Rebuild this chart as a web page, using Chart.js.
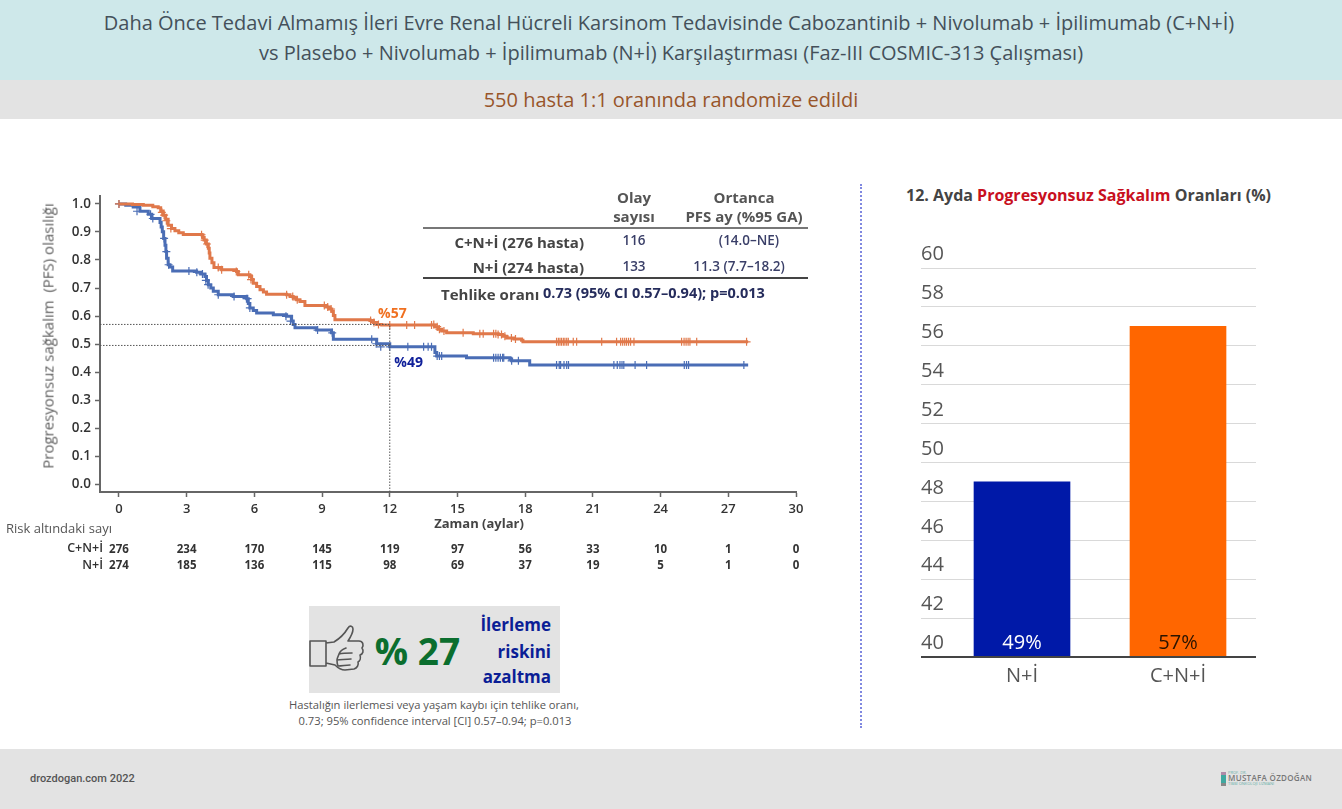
<!DOCTYPE html>
<html lang="tr"><head><meta charset="utf-8">
<script src="https://cdn.jsdelivr.net/npm/chart.js@4"></script>
<style>
html,body{margin:0;padding:0;background:#fff;width:1342px;height:809px;overflow:hidden;font-family:"Open Sans",sans-serif}
.band{position:absolute;left:0;width:1342px}
.t{position:absolute;white-space:nowrap;line-height:1;transform:translateY(-50%)}
.c{transform:translate(-50%,-50%)}
.r{transform:translate(-100%,-50%)}
canvas{position:absolute}
.h{font-size:15px;font-weight:700;color:#555}
.rowl{font-size:15px;font-weight:700;color:#444}
.rowv{font-size:13.5px;font-weight:600;color:#3a3f68}
.az{font-size:17px;font-weight:700;color:#0b1e96}
.cap{font-size:11.2px;color:#555}
</style></head><body>
<div class="band" style="top:0;height:80px;background:#cee8ea"></div>
<div class="band" style="top:80px;height:39px;background:#e3e3e3"></div>
<div class="band" style="top:749px;height:60px;background:#e3e3e3"></div>
<div class="t c" style="left:669px;top:23px;font-size:20px;color:#44505a">Daha Önce Tedavi Almamış İleri Evre Renal Hücreli Karsinom Tedavisinde Cabozantinib + Nivolumab + İpilimumab (C+N+İ)</div>
<div class="t c" style="left:671px;top:53px;font-size:20px;color:#44505a">vs Plasebo + Nivolumab + İpilimumab (N+İ) Karşılaştırması (Faz-III COSMIC-313 Çalışması)</div>
<div class="t c" style="left:671px;top:100px;font-size:20px;color:#98552a">550 hasta 1:1 oranında randomize edildi</div>

<canvas id="km" style="left:0;top:184px"></canvas>
<canvas id="bars" style="left:900px;top:240px"></canvas>

<div class="t" style="left:48px;top:336px;font-size:15px;color:#5f5f5f;transform:translate(-50%,-50%) rotate(-90deg)">Progresyonsuz sağkalım&nbsp; (PFS) olasılığı</div>
<div class="t c" style="left:479px;top:523px;font-size:13px;font-weight:700;color:#444">Zaman (aylar)</div>
<div class="t" style="left:6px;top:528px;font-size:13px;color:#555">Risk altındaki sayı</div>

<div class="t c h" style="left:634px;top:197px">Olay</div>
<div class="t c h" style="left:634px;top:216px">sayısı</div>
<div class="t c h" style="left:744px;top:197px">Ortanca</div>
<div class="t c h" style="left:744px;top:216px">PFS ay (%95 GA)</div>
<div style="position:absolute;left:423px;top:227px;width:385px;height:2px;background:#777"></div>
<div class="t r rowl" style="left:584px;top:242px">C+N+İ (276 hasta)</div>
<div class="t c rowv" style="left:634px;top:241px">116</div>
<div class="t c rowv" style="left:749px;top:241px">(14.0–NE)</div>
<div class="t r rowl" style="left:584px;top:267px">N+İ (274 hasta)</div>
<div class="t c rowv" style="left:634px;top:267px">133</div>
<div class="t c rowv" style="left:739px;top:267px">11.3 (7.7–18.2)</div>
<div style="position:absolute;left:423px;top:277px;width:385px;height:2px;background:#444"></div>
<div class="t rowl" style="left:441px;top:294px">Tehlike oranı</div>
<div class="t rowl" style="left:543px;top:293px;font-size:14.5px;color:#252c5c">0.73 (95% CI 0.57–0.94); p=0.013</div>

<div style="position:absolute;left:309px;top:606px;width:251px;height:87px;background:#e3e3e3"></div>
<svg style="position:absolute;left:305px;top:622px" width="64" height="56" viewBox="0 0 64 56" fill="none" stroke="#555" stroke-width="1.6" stroke-linejoin="round" stroke-linecap="round">
<path d="M5 19h16v25H5z M21 21l8-1c5-3 11-9 14-14 2-3 5-2 5 1 0 4-3 9-5 12h11c4 0 5 4 3 7 2 3 1 6-2 7 1 3 0 6-2 7 1 3-1 6-4 7l-9 1c-4 0-7-2-10-5l-9-2"/>
<path d="M41 26c-3 1-6 3-7 6 4-1 8-1 13-1M34 32c-1 3-2 4-2 6 4 0 9-1 14-1M32 38c0 2 0 4 1 6 4 0 8-1 12-1"/>
</svg>
<div class="t c" style="left:417.5px;top:650px;font-size:37px;font-weight:700;color:#0b6e2e">% 27</div>
<div class="t r az" style="left:551px;top:624px">İlerleme</div>
<div class="t r az" style="left:551px;top:651px">riskini</div>
<div class="t r az" style="left:551px;top:676px">azaltma</div>
<div class="t c cap" style="left:434px;top:705px">Hastalığın ilerlemesi veya yaşam kaybı için tehlike oranı,</div>
<div class="t c cap" style="left:435px;top:721px">0.73; 95% confidence interval [CI] 0.57–0.94; p=0.013</div>

<div style="position:absolute;left:860px;top:184px;width:0;height:544px;border-left:2px dotted #8088e0"></div>
<div class="t" style="left:906px;top:195px;font-size:16px;font-weight:700;color:#444">12. Ayda <span style="color:#c8101e">Progresyonsuz Sağkalım</span> Oranları (%)</div>

<div class="t" style="left:30px;top:778px;font-family:Roboto,sans-serif;font-size:11px;font-weight:500;color:#555">drozdogan.com 2022</div>
<div style="position:absolute;left:1221px;top:772px;width:5px;height:14px;background:linear-gradient(#b08aa8 0 3px,#3fa8a0 3px 11px,#888 11px)"></div>
<div class="t" style="left:1228px;top:773px;font-size:4px;color:#6bb0aa">PROF. DR.</div>
<div class="t" style="left:1228px;top:778px;font-size:8px;font-weight:600;color:#777;letter-spacing:.3px">MUSTAFA ÖZDOĞAN</div>
<div class="t" style="left:1228px;top:784px;font-size:4px;color:#6bb0aa">TIBBİ ONKOLOJİ UZMANI</div>

<script>
// --- Kaplan-Meier curve (months / survival probability) ---
const xTicks = [0,3,6,9,12,15,18,21,24,27,30];
const yTicks = [0,0.1,0.2,0.3,0.4,0.5,0.6,0.7,0.8,0.9,1.0];
const cniMonths = [0,0.6,1.08,1.5,1.74,1.85,1.96,2.07,2.18,2.33,2.48,2.65,2.85,3.66,3.72,3.77,3.87,3.96,4.0,4.03,4.12,4.21,4.55,5.21,5.29,5.8,5.88,5.95,6.1,6.25,6.4,6.54,7.43,7.58,7.72,7.87,8.02,8.24,9.2,9.32,9.43,9.5,9.57,11.12,11.27,11.42,11.64,13.93,14.0,14.15,14.3,14.52,15.7,16.81,17.0,17.18,17.5,17.84,17.9,27.88];
const cniSurv   = [1,0.998,0.995,0.99,0.986,0.975,0.96,0.945,0.924,0.912,0.904,0.897,0.891,0.89,0.88,0.871,0.857,0.842,0.825,0.806,0.79,0.773,0.765,0.759,0.747,0.741,0.73,0.717,0.705,0.694,0.686,0.678,0.676,0.67,0.664,0.658,0.652,0.638,0.632,0.625,0.617,0.602,0.587,0.584,0.577,0.57,0.568,0.568,0.562,0.553,0.547,0.54,0.537,0.534,0.528,0.522,0.518,0.514,0.508,0.508];
const niMonths = [0,0.3,0.63,0.93,1.3,1.45,1.82,1.87,1.92,1.98,2.04,2.08,2.11,2.18,2.26,2.38,3.44,3.62,3.81,3.88,3.96,4.07,4.18,4.4,5.06,5.66,5.73,5.8,5.95,6.1,6.84,7.43,7.65,7.72,7.8,8.76,9.42,9.5,11.2,11.42,12.0,13.93,14.0,14.08,15.4,17.32,17.4,18.2,27.88];
const niSurv   = [1,0.995,0.989,0.974,0.963,0.948,0.934,0.918,0.901,0.877,0.853,0.83,0.806,0.783,0.775,0.761,0.756,0.75,0.741,0.727,0.712,0.7,0.688,0.676,0.67,0.662,0.645,0.629,0.62,0.611,0.605,0.599,0.582,0.57,0.558,0.55,0.54,0.517,0.517,0.501,0.49,0.49,0.47,0.457,0.451,0.447,0.44,0.425,0.425];
// --- censoring marks ---
const cniCensorX = [0,1.9,2.0,2.1,2.3,3.66,3.8,3.9,4.4,4.55,5.2,5.75,5.85,7.43,7.7,7.9,9.1,9.25,9.4,11.15,11.3,11.5,12.0,12.75,13.1,13.85,13.95,14.1,14.2,14.4,15.25,15.99,16.14,16.6,16.7,16.8,16.95,17.1,17.39,17.57,19.39,19.47,19.54,19.61,19.69,19.76,19.84,19.91,20.13,20.28,21.39,22.05,22.23,22.32,22.41,22.49,22.58,22.67,22.82,24.93,25.04,25.13,25.22,25.3,25.6,27.81];
const cniCensorY = [1,0.97,0.96,0.94,0.912,0.89,0.871,0.857,0.773,0.765,0.759,0.747,0.73,0.676,0.67,0.658,0.638,0.632,0.625,0.584,0.577,0.57,0.568,0.568,0.568,0.568,0.57,0.562,0.553,0.547,0.54,0.537,0.537,0.537,0.537,0.534,0.534,0.528,0.522,0.518,0.508,0.508,0.508,0.508,0.508,0.508,0.508,0.508,0.508,0.508,0.508,0.508,0.508,0.508,0.508,0.508,0.508,0.508,0.508,0.508,0.508,0.508,0.508,0.508,0.508,0.508];
const niCensorX = [0,0.8,1.4,1.5,2.0,2.1,2.2,3.1,3.45,3.7,3.85,3.95,4.4,5.1,5.65,5.7,5.8,7.4,7.6,8.8,9.45,11.2,11.4,11.6,12.0,12.8,13.5,13.7,13.85,14.1,14.2,14.3,16.6,16.7,16.8,16.9,17.0,17.05,17.4,17.7,19.39,19.51,19.57,19.72,19.84,19.92,21.93,22.08,22.2,22.29,22.37,22.87,23.38,25.05,25.15,25.24,27.69];
const niCensorY = [1,0.974,0.963,0.948,0.877,0.83,0.783,0.761,0.756,0.75,0.727,0.712,0.676,0.67,0.662,0.662,0.629,0.599,0.582,0.55,0.54,0.517,0.501,0.49,0.49,0.49,0.49,0.49,0.49,0.457,0.457,0.457,0.451,0.451,0.451,0.451,0.451,0.451,0.44,0.44,0.425,0.425,0.425,0.425,0.425,0.425,0.425,0.425,0.425,0.425,0.425,0.425,0.425,0.425,0.425,0.425,0.425];
// --- reference lines at 12 months ---
const refX = [-0.84,12];
const refCni = [0.57,0.57];
const refNi = [0.495,0.495];
const refVertX = [12,12];
const refVertY = [-0.028,0.566];
// --- numbers at risk ---
const riskCni = [276,234,170,145,119,97,56,33,10,1,0];
const riskNi  = [274,185,136,115,98,69,37,19,5,1,0];
// --- 12-month PFS bars ---
const barLabels = ['N+İ','C+N+İ'];
const barValues = [49,57];
const barCaptions = ['49%','57%'];
const barColors = ['#0019a8','#ff6600'];
const barCaptionColors = ['#ffffff','#2a1400'];
const barTicks = [40,42,44,46,48,50,52,54,56,58,60];

const zip = (xs,ys)=>xs.map((x,i)=>({x,y:ys[i]}));
const ORANGE='#e0784a', BLUE='#4a6db5';
const FONT='"Open Sans",sans-serif';

const kmOverlay={id:'kmOverlay',afterDraw(c){
  const x=c.scales.x,y=c.scales.y,g=c.ctx;
  g.save();g.textBaseline='middle';g.textAlign='center';g.fillStyle='#333';
  g.font='700 11.5px '+FONT;
  xTicks.forEach((t,i)=>{
    g.fillText(riskCni[i],x.getPixelForValue(t),549.5-184);
    g.fillText(riskNi[i],x.getPixelForValue(t),566-184);
  });
  g.textAlign='right';g.font='600 12.5px '+FONT;
  g.fillText('C+N+İ',103,548.5-184);g.fillText('N+İ',103,565.5-184);
  g.textAlign='left';g.font='700 14px '+FONT;
  g.fillStyle='#f07020';g.fillText('%57',x.getPixelForValue(11.48),y.getPixelForValue(0.606));
  g.fillStyle='#10209a';g.fillText('%49',x.getPixelForValue(12.2),y.getPixelForValue(0.433));
  g.restore();
}};
const REFSTYLE={showLine:true,borderColor:'#555',borderWidth:1,borderDash:[1.5,1.5],pointRadius:0};
const kmCanvas=document.getElementById('km');
kmCanvas.width=815;kmCanvas.height=396;kmCanvas.style.width='815px';kmCanvas.style.height='396px';
new Chart(kmCanvas,{
  type:'scatter',
  plugins:[kmOverlay],
  data:{datasets:[
    {data:zip(refX,refCni),...REFSTYLE},
    {data:zip(refX,refNi),...REFSTYLE},
    {data:zip(refVertX,refVertY),...REFSTYLE},
    {label:'C+N+İ',data:zip(cniMonths,cniSurv),showLine:true,stepped:true,borderColor:ORANGE,borderWidth:3,pointRadius:0},
    {label:'N+İ',data:zip(niMonths,niSurv),showLine:true,stepped:true,borderColor:BLUE,borderWidth:3,pointRadius:0},
    {data:zip(cniCensorX,cniCensorY),pointStyle:'cross',pointRadius:4,pointBorderWidth:1.2,borderColor:ORANGE,backgroundColor:ORANGE},
    {data:zip(niCensorX,niCensorY),pointStyle:'cross',pointRadius:4,pointBorderWidth:1.2,borderColor:BLUE,backgroundColor:BLUE}
  ]},
  options:{
    responsive:false,animation:false,
    layout:{padding:{left:0,right:19,top:10,bottom:56}},
    plugins:{legend:{display:false},tooltip:{enabled:false}},
    scales:{
      x:{type:'linear',min:-0.84,max:30,
        afterBuildTicks(s){s.ticks=xTicks.map(v=>({value:v}));},
        afterFit(s){s.height=32;},
        border:{color:'#666',width:2},
        grid:{drawOnChartArea:false,drawTicks:true,tickLength:5,tickColor:'#666',tickWidth:1.5},
        ticks:{color:'#333',font:{family:FONT,size:13,weight:'600'},maxRotation:0,autoSkip:false,padding:4,callback:v=>String(v)}},
      y:{type:'linear',min:-0.028,max:1.028,
        afterBuildTicks(s){s.ticks=yTicks.map(v=>({value:v}));},
        afterFit(s){s.width=100;},
        border:{color:'#666',width:2},
        grid:{drawOnChartArea:false,drawTicks:true,tickLength:5,tickColor:'#666',tickWidth:1.5},
        ticks:{color:'#333',font:{family:FONT,size:13.5,weight:'600'},autoSkip:false,padding:4,callback:v=>v.toFixed(1)}}
    }
  }
});

const barOverlay={id:'barOverlay',afterDatasetsDraw(c){
  const g=c.ctx,y=c.scales.y,x=c.scales.x;
  g.save();g.font='20px '+FONT;g.textAlign='center';g.textBaseline='middle';
  barCaptions.forEach((t,i)=>{g.fillStyle=barCaptionColors[i];g.fillText(t,x.getPixelForValue(i),y.getPixelForValue(40)-14);});
  g.strokeStyle='#444';g.lineWidth=2;g.beginPath();g.moveTo(21,y.getPixelForValue(40));g.lineTo(c.chartArea.right,y.getPixelForValue(40));g.stroke();
  g.restore();
}};
const barCanvas=document.getElementById('bars');
barCanvas.width=380;barCanvas.height=460;barCanvas.style.width='380px';barCanvas.style.height='460px';
new Chart(barCanvas,{
  type:'bar',
  plugins:[barOverlay],
  data:{labels:barLabels,datasets:[{data:barValues,backgroundColor:barColors,barThickness:96}]},
  options:{
    responsive:false,animation:false,
    layout:{padding:{left:21,right:24,top:28,bottom:13}},
    plugins:{legend:{display:false},tooltip:{enabled:false}},
    scales:{
      x:{grid:{display:false},border:{display:false},
        afterFit(s){s.height=30;},
        ticks:{color:'#555',font:{family:FONT,size:20},padding:-1,maxRotation:0}},
      y:{min:40,max:60,
        afterBuildTicks(s){s.ticks=barTicks.map(v=>({value:v}));},
        afterFit(s){s.width=23;},
        border:{display:false},
        grid:{color:'#d9d9d9',lineWidth:1,drawTicks:true,tickLength:23,tickColor:'#d9d9d9',tickWidth:1},
        ticks:{color:'#555',font:{family:FONT,size:20},crossAlign:'far',labelOffset:-13.5,padding:0,autoSkip:false}}
    }
  }
});
</script>
</body></html>
